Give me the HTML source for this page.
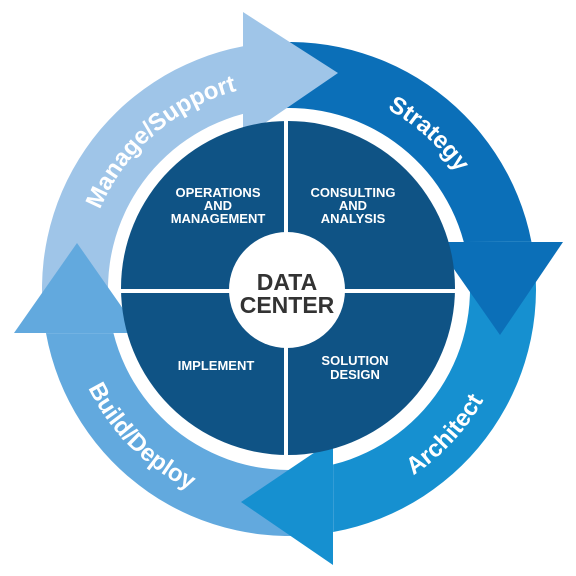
<!DOCTYPE html>
<html><head><meta charset="utf-8"><style>
html,body{margin:0;padding:0;background:#fff;}
svg{display:block;}
text{font-family:"Liberation Sans",sans-serif;font-weight:bold;}
</style></head><body>
<svg id="s" width="576" height="576" viewBox="0 0 576 576">
<g id="bands"></g>
<polygon points="243,12 243,138 338,73" fill="#9fc5e8"/>
<polygon points="435,242 563,242 500,335" fill="#0b6fb8"/>
<polygon points="333,440 333,565 241,502" fill="#1690d0"/>
<polygon points="14,333 140,333 77,243" fill="#62a9de"/>
<circle cx="288" cy="288" r="167" fill="#0f5385"/>
<rect x="284" y="118" width="4" height="340" fill="#fff"/>
<rect x="118" y="289" width="340" height="4" fill="#fff"/>
<circle cx="287" cy="290" r="58" fill="#fff"/>
<text x="287" y="290" font-size="23" fill="#333" text-anchor="middle">DATA</text>
<text x="287" y="313" font-size="23" fill="#333" text-anchor="middle">CENTER</text>
<g font-size="13" fill="#fff" text-anchor="middle">
<text x="218" y="197">OPERATIONS</text><text x="218" y="210">AND</text><text x="218" y="223">MANAGEMENT</text>
<text x="353" y="197">CONSULTING</text><text x="353" y="210">AND</text><text x="353" y="223">ANALYSIS</text>
<text x="216" y="370">IMPLEMENT</text>
<text x="355" y="365">SOLUTION</text><text x="355" y="379">DESIGN</text>
</g>
<defs id="d"></defs>
<g id="labels" font-size="24" fill="#fff"></g>
</svg>
<script>
var C=289,NS="http://www.w3.org/2000/svg";
function p(r,a){a=a*Math.PI/180;return [C+r*Math.cos(a),C+r*Math.sin(a)];}
function band(so,si,eo,ei,col){
 var R=247,r=181,o0=p(R,so),o1=p(R,eo),i1=p(r,ei),i0=p(r,si);
 var e=document.createElementNS(NS,"path");
 e.setAttribute("d","M"+o0+" A"+R+","+R+" 0 0 1 "+o1+" L"+i1+" A"+r+","+r+" 0 0 0 "+i0+"Z");
 e.setAttribute("fill",col);document.getElementById("bands").appendChild(e);}
band(169.7,165.9,259.3,255.3,"#9fc5e8");
band(259.3,255.3,349.0,344.95,"#0b6fb8");
band(-11.0,-15.05,79.7,75.9,"#1690d0");
band(79.7,75.9,169.7,165.9,"#62a9de");
function lab(id,txt,ctr,r,cw){
 var a0=cw?ctr-90:ctr+90,a1=cw?ctr+90:ctr-90,s=p(r,a0),e=p(r,a1);
 var path=document.createElementNS(NS,"path");path.setAttribute("id",id);
 path.setAttribute("d","M"+s+" A"+r+","+r+" 0 0 "+(cw?1:0)+" "+e);
 document.getElementById("d").appendChild(path);
 var t=document.createElementNS(NS,"text");t.setAttribute("text-anchor","middle");
 var tp=document.createElementNS(NS,"textPath");tp.setAttribute("href","#"+id);
 tp.setAttributeNS("http://www.w3.org/1999/xlink","xlink:href","#"+id);
 tp.setAttribute("startOffset","50%");tp.textContent=txt;t.appendChild(tp);
 document.getElementById("labels").appendChild(t);}
lab("pm","Manage/Support",229,205,true);
lab("ps","Strategy",312,205,true);
lab("pa","Architect",43,224,false);
lab("pb","Build/Deploy",135,224,false);
</script>
</body></html>
